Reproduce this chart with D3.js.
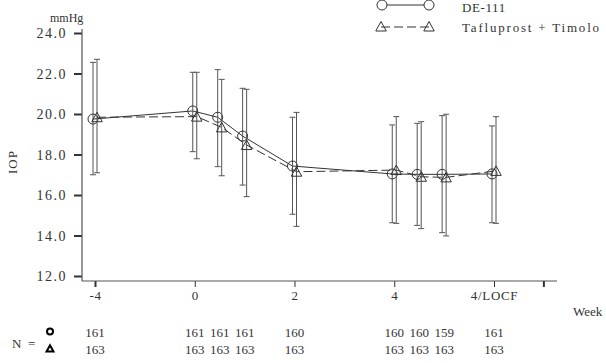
<!DOCTYPE html>
<html>
<head>
<meta charset="utf-8">
<script src="https://cdn.jsdelivr.net/npm/d3@7"></script>
<style>
body{margin:0;background:#fff;}
</style>
</head>
<body>
<div id="myGraph"></div>
<script>
// visit positions (slot units: -4, 0, 2, 4, 4/LOCF at 0..4)
var slots = [0, 1, 1.25, 1.5, 2, 3, 3.25, 3.5, 4];
var tickSlots = [0, 1, 2, 3, 4];
var tickLabels = ["-4", "0", "2", "4", "4/LOCF"];
var yTicks = [12, 14, 16, 18, 20, 22, 24];

// DE-111 (circle)
var deMean  = [19.75, 20.15, 19.84, 18.91, 17.43, 17.04, 17.02, 17.02, 17.04];
var deUpper = [22.55, 22.06, 22.19, 21.27, 19.84, 19.46, 19.54, 19.92, 19.41];
var deLower = [17.00, 18.14, 17.40, 16.49, 15.05, 14.63, 14.50, 14.14, 14.63];
var deN     = ["161", "161", "161", "161", "160", "160", "160", "159", "161"];

// Tafluprost + Timolol (triangle)
var tfMean  = [19.84, 19.87, 19.34, 18.47, 17.15, 17.23, 16.90, 16.87, 17.19];
var tfUpper = [22.70, 22.06, 21.71, 21.22, 20.08, 19.87, 19.62, 19.99, 19.87];
var tfLower = [17.10, 17.79, 16.95, 15.92, 14.45, 14.60, 14.34, 13.98, 14.60];
var tfN     = ["163", "163", "163", "163", "163", "163", "163", "163", "163"];

var w = 606, h = 363;
var serif = "Liberation Serif";
var ink = "#333";

var vis = d3.select("#myGraph").append("svg").attr("width", w).attr("height", h);

var x = d3.scaleLinear().domain([0, 4]).range([95, 494]);
var y = d3.scaleLinear().domain([12, 24]).range([276, 33]);

// y axis
var yAxis = vis.append("g").attr("transform", "translate(82,0)")
    .call(d3.axisLeft(y).tickValues(yTicks).tickSize(8).tickFormat(d3.format(".1f")));
yAxis.select(".domain").remove();
yAxis.selectAll(".tick line").attr("stroke", ink).attr("stroke-width", 2);
yAxis.selectAll(".tick text").attr("x", -15).attr("dy", "0.35em")
    .style("font-family", serif).style("font-size", "14px").style("letter-spacing", "1.5px").style("fill", ink);
vis.append("line").attr("x1", 82).attr("x2", 82).attr("y1", 29).attr("y2", 281)
    .attr("stroke", "#555").attr("stroke-width", 1.2);

// x axis
var xAxis = vis.append("g").attr("transform", "translate(0,281)")
    .call(d3.axisBottom(x).tickValues(tickSlots).tickSize(6).tickFormat(function(d, i){ return tickLabels[i]; }));
xAxis.select(".domain").remove();
xAxis.selectAll(".tick line").attr("stroke", ink).attr("stroke-width", function(d){ return d == 0 ? 2 : 1; });
xAxis.selectAll(".tick text").attr("y", 14).attr("dy", "0.35em")
    .style("font-family", serif).style("font-size", "13px").style("letter-spacing", "0.7px").style("fill", ink);
vis.append("line").attr("x1", 82).attr("x2", 557).attr("y1", 281).attr("y2", 281)
    .attr("stroke", "#555").attr("stroke-width", 1.2);
vis.append("line").attr("x1", x(4.5)).attr("x2", x(4.5)).attr("y1", 281).attr("y2", 287)
    .attr("stroke", ink).attr("stroke-width", 2);

vis.append("text").text("mmHg").attr("x", 50).attr("y", 22)
    .style("font-family", serif).style("font-size", "12px").style("fill", ink);
vis.append("text").text("IOP").attr("transform", "translate(17,162) rotate(-90)")
    .attr("text-anchor", "middle")
    .style("font-family", serif).style("font-size", "13px").style("letter-spacing", "1px").style("fill", ink);
vis.append("text").text("Week").attr("x", 573).attr("y", 316)
    .style("font-family", serif).style("font-size", "13px").style("fill", ink);

function triPath(cx, cy, s){
    return "M" + cx + "," + (cy - s) + "L" + (cx + s * 1.05) + "," + (cy + s * 0.9) +
        "L" + (cx - s * 1.05) + "," + (cy + s * 0.9) + "Z";
}

function drawSeries(mean, upper, lower, dx, dashed, isTri){
    var g = vis.append("g");
    var pts = slots.map(function(s, i){ return [x(s) + dx, mean[i]]; });
    g.append("path").datum(pts)
        .attr("d", d3.line().x(function(d){ return d[0]; }).y(function(d){ return y(d[1]); }))
        .attr("fill", "none").attr("stroke", ink).attr("stroke-width", 1)
        .attr("stroke-dasharray", dashed ? "9,4" : null);
    slots.forEach(function(s, i){
        var cx = x(s) + dx;
        g.append("line").attr("x1", cx).attr("x2", cx).attr("y1", y(lower[i])).attr("y2", y(upper[i]))
            .attr("stroke", "#555").attr("stroke-width", 1);
        [upper[i], lower[i]].forEach(function(v){
            g.append("line").attr("x1", cx - 3).attr("x2", cx + 3).attr("y1", y(v)).attr("y2", y(v))
                .attr("stroke", "#555").attr("stroke-width", 1);
        });
        if (isTri) {
            g.append("path").attr("d", triPath(cx, y(mean[i]), 5))
                .attr("fill", "none").attr("stroke", ink).attr("stroke-width", 1);
        } else {
            g.append("circle").attr("cx", cx).attr("cy", y(mean[i])).attr("r", 5)
                .attr("fill", "none").attr("stroke", ink).attr("stroke-width", 1);
        }
    });
}

drawSeries(deMean, deUpper, deLower, -2, false, false);
drawSeries(tfMean, tfUpper, tfLower, 2, true, true);

// legend
vis.append("line").attr("x1", 382).attr("x2", 429).attr("y1", 5).attr("y2", 5).attr("stroke", ink);
vis.append("circle").attr("cx", 382).attr("cy", 5).attr("r", 5).attr("fill", "#fff").attr("stroke", ink);
vis.append("circle").attr("cx", 429).attr("cy", 5).attr("r", 5).attr("fill", "#fff").attr("stroke", ink);
vis.append("line").attr("x1", 381).attr("x2", 429).attr("y1", 27).attr("y2", 27)
    .attr("stroke", ink).attr("stroke-dasharray", "9,4");
vis.append("path").attr("d", triPath(381, 26.5, 5)).attr("fill", "none").attr("stroke", ink);
vis.append("path").attr("d", triPath(429, 26.5, 5)).attr("fill", "none").attr("stroke", ink);
vis.append("text").text("DE-111").attr("x", 462).attr("y", 12)
    .style("font-family", serif).style("font-size", "13px").style("letter-spacing", "0.6px").style("fill", ink);
vis.append("text").text("Tafluprost + Timolo").attr("x", 462).attr("y", 32)
    .style("font-family", serif).style("font-size", "13px").style("letter-spacing", "1.8px").style("fill", ink);

// N table
vis.append("text").text("N  =").attr("x", 12).attr("y", 348)
    .style("font-family", serif).style("font-size", "13px").style("white-space", "pre").style("fill", ink);
vis.append("circle").attr("cx", 50).attr("cy", 331.5).attr("r", 3)
    .attr("fill", "none").attr("stroke", "#000").attr("stroke-width", 2);
vis.append("path").attr("d", triPath(50, 348.5, 3.3))
    .attr("fill", "none").attr("stroke", "#000").attr("stroke-width", 2);
vis.selectAll("text.nde").data(deN).enter().append("text").attr("class", "nde")
    .text(function(d){ return d; })
    .attr("x", function(d, i){ return x(slots[i]); }).attr("y", 337)
    .attr("text-anchor", "middle")
    .style("font-family", serif).style("font-size", "13px").style("fill", ink);
vis.selectAll("text.ntf").data(tfN).enter().append("text").attr("class", "ntf")
    .text(function(d){ return d; })
    .attr("x", function(d, i){ return x(slots[i]); }).attr("y", 354)
    .attr("text-anchor", "middle")
    .style("font-family", serif).style("font-size", "13px").style("fill", ink);
</script>
</body>
</html>
